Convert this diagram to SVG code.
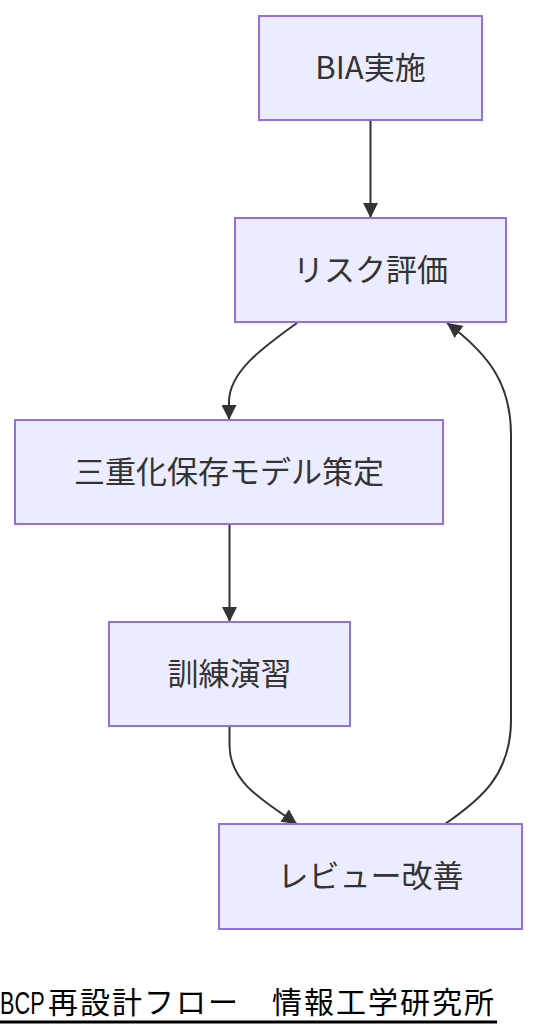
<svg xmlns="http://www.w3.org/2000/svg" width="554" height="1036" viewBox="0 0 554 1036">
<style>
.node rect{fill:#ECECFF;stroke:#9370DB;stroke-width:2}
.node text{font-family:"Trebuchet MS","Noto Sans CJK JP",sans-serif;font-size:31px;fill:#333333;text-anchor:middle}
.edge{fill:none;stroke:#333333;stroke-width:2}
.title{font-family:"Noto Sans CJK JP",sans-serif;font-size:30px;fill:#000000}
.latin{font-family:"Liberation Sans",sans-serif;font-size:31px;fill:#000000}
</style>
<defs>
<marker id="arrow" viewBox="0 0 10 10" refX="10" refY="5" markerUnits="userSpaceOnUse" markerWidth="15" markerHeight="15" orient="auto">
<path d="M0,0 L10,5 L0,10 z" fill="#333333"/>
</marker>
</defs>
<rect width="554" height="1036" fill="#ffffff"/>
<g id="edges">
<path class="edge" d="M370.5,120 L370.5,218" marker-end="url(#arrow)"/>
<path class="edge" d="M297,323 C262,348 229,372 229,402 L229,420" marker-end="url(#arrow)"/>
<path class="edge" d="M229.5,524 L229.5,622" marker-end="url(#arrow)"/>
<path class="edge" d="M229.5,726 L229.5,745 C229.5,782 262,800 297,824" marker-end="url(#arrow)"/>
<path class="edge" d="M445,824 C480,800 511,775 511,720 L511,435 C511,385 490,355 447,323" marker-end="url(#arrow)"/>
</g>
<g id="node-bia" class="node">
<rect x="259" y="16" width="223" height="104"/>
<text x="370.5" y="79">BIA実施</text>
</g>
<g id="node-risk" class="node">
<rect x="235" y="218" width="271" height="104"/>
<text x="370.5" y="281">リスク評価</text>
</g>
<g id="node-model" class="node">
<rect x="15" y="420" width="428" height="104"/>
<text x="229" y="483">三重化保存モデル策定</text>
</g>
<g id="node-training" class="node">
<rect x="109" y="622" width="241" height="104"/>
<text x="229.5" y="685">訓練演習</text>
</g>
<g id="node-review" class="node">
<rect x="219" y="824" width="303" height="105"/>
<text x="370.5" y="887">レビュー改善</text>
</g>
<g id="title">
<text class="latin" transform="translate(0,1014) scale(0.7,1)">BCP</text>
<text class="title" x="48" y="1013" letter-spacing="2">再設計フロー　情報工学研究所</text>
<line x1="0" y1="1022" x2="497" y2="1022" stroke="#000000" stroke-width="3"/>
</g>
</svg>
